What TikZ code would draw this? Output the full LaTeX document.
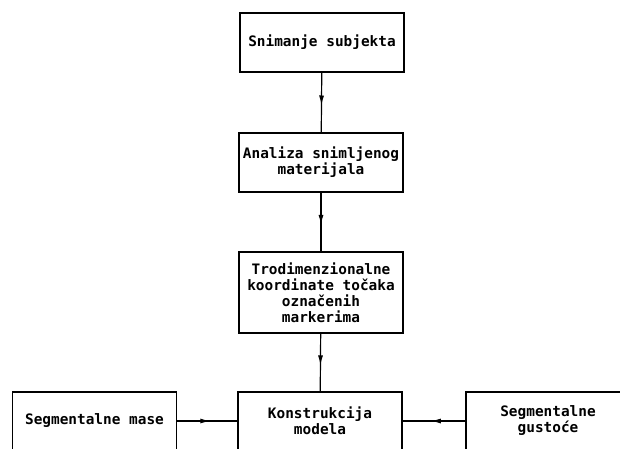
\documentclass[tikz,border=0pt]{standalone}
\usepackage{fontspec}
\newfontfamily\boxfont{DejaVu Sans Mono}
\usetikzlibrary{arrows.meta,decorations.markings}

\tikzset{
  box/.style={draw, line width=1.2pt, align=center, inner sep=1pt,
    minimum width=164pt, minimum height=59pt,
    font=\boxfont\bfseries\fontsize{14.4}{16}\selectfont},
  midarrow/.style={line width=1.2pt, postaction={decorate},
    decoration={markings, mark=at position 0.55 with {\arrow{Latex[length=10pt,width=5pt]}}}}
}

\begin{document}
\begin{tikzpicture}[x=1pt,y=-1pt]
  \useasboundingbox (0,0) rectangle (620,448);
  % glavni tok
  \node[box] (snim) at (322,42.5) {Snimanje subjekta};
  \node[box] (anal) at (321,162.5) {Analiza snimljenog\\materijala};
  \node[box, minimum height=81pt] (trod) at (321,292.5)
    {Trodimenzionalne\\koordinate točaka\\označenih\\markerima};
  \node[box, minimum height=58pt] (konst) at (320,421) {Konstrukcija\\modela};
  % ulazi sa strane
  \node[box, minimum height=58pt] (mase) at (94.5,421) {Segmentalne mase};
  \node[box, minimum height=58pt] (gust) at (548,421) {Segmentalne\\gustoće};

  \draw[midarrow] (snim) -- (anal);
  \draw[midarrow] (anal) -- (trod);
  \draw[midarrow] (trod) -- (konst);
  \draw[midarrow] (mase) -- (konst);
  \draw[midarrow] (gust) -- (konst);
\end{tikzpicture}
\end{document}
